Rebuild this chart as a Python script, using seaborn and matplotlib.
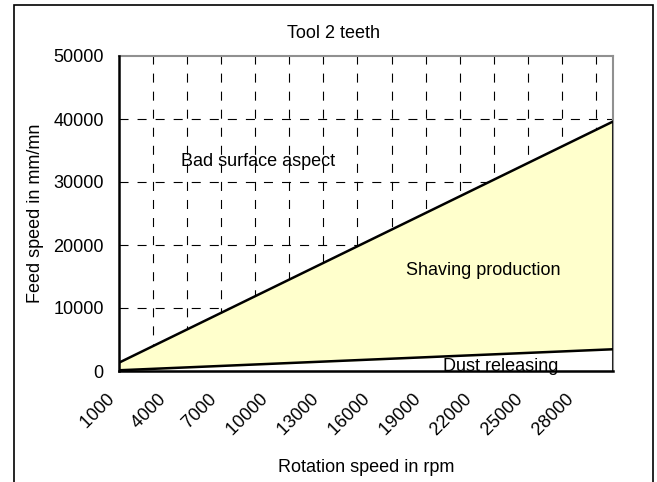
import matplotlib
matplotlib.use("Agg")
import matplotlib.pyplot as plt
import seaborn as sns
import pandas as pd
from matplotlib.patches import Rectangle

# rotation speed categories (rpm)
rpm = [1000, 2000, 3000, 4000, 5000, 6000, 7000, 8000, 9000, 10000,
       11000, 12000, 13000, 14000, 15000, 16000, 17000, 18000, 19000, 20000,
       21000, 22000, 23000, 24000, 25000, 26000, 27000, 28000, 29000, 30000]
# lower limit: dust releasing below this feed
feed_min = [115, 230, 345, 460, 575, 690, 805, 920, 1035, 1150,
            1265, 1380, 1495, 1610, 1725, 1840, 1955, 2070, 2185, 2300,
            2415, 2530, 2645, 2760, 2875, 2990, 3105, 3220, 3335, 3450]
# upper limit: bad surface aspect above this feed
feed_max = [1320, 2640, 3960, 5280, 6600, 7920, 9240, 10560, 11880, 13200,
            14520, 15840, 17160, 18480, 19800, 21120, 22440, 23760, 25080, 26400,
            27720, 29040, 30360, 31680, 33000, 34320, 35640, 36960, 38280, 39600]
grid_vals = [1000, 3000, 5000, 7000, 9000, 11000, 13000, 15000,
             17000, 19000, 21000, 23000, 25000, 27000, 29000]
xlabel_vals = [1000, 4000, 7000, 10000, 13000, 16000, 19000, 22000, 25000, 28000]
ytick_vals = [0, 10000, 20000, 30000, 40000, 50000]

df = pd.DataFrame({"rpm": rpm, "low": feed_min, "high": feed_max})

sns.set_style("white")
plt.rcParams["font.family"] = ["Liberation Sans", "DejaVu Sans"]
plt.rcParams["lines.scale_dashes"] = False
plt.rcParams["text.color"] = "black"
plt.rcParams["axes.labelcolor"] = "black"
plt.rcParams["xtick.color"] = "black"
plt.rcParams["ytick.color"] = "black"

fig = plt.figure(figsize=(6.57, 4.82), dpi=100)
ax = fig.add_axes([119 / 657, 1 - 371 / 482, (613 - 119) / 657, (371 - 56) / 482])

# grid
for xv in grid_vals[1:]:
    ax.axvline(xv, color="black", lw=0.8, dashes=(6.5, 6.5), zorder=1)
for yv in ytick_vals[1:-1]:
    ax.axhline(yv, color="black", lw=0.8, dashes=(6.5, 6.5), zorder=1)

# stacked areas
ax.fill_between(df["rpm"], 0, df["low"], color="white", zorder=2)
ax.fill_between(df["rpm"], df["low"], df["high"], color="#FFFFCC", zorder=2)
sns.lineplot(data=df, x="rpm", y="low", color="black", lw=1.8, ax=ax, zorder=3)
sns.lineplot(data=df, x="rpm", y="high", color="black", lw=1.8, ax=ax, zorder=3)
ax.vlines(rpm[-1], 0, feed_max[-1], color="black", lw=1.8, zorder=3)

ax.set_xlim(rpm[0], rpm[-1])
ax.set_ylim(0, 50000)
# tick marks on every gridline position, labels every third category
ax.set_xticks(grid_vals, minor=True)
ax.set_xticks(xlabel_vals)
# trailing spaces pull the rotated label end a little left of the category
ax.set_xticklabels([f"{v}  " for v in xlabel_vals], rotation=45, ha="right",
                   va="center", rotation_mode="anchor", fontsize=13)
ax.set_yticks(ytick_vals)
ax.set_yticklabels([str(v) for v in ytick_vals], fontsize=13)
ax.tick_params(axis="x", which="major", length=0, pad=14)
ax.tick_params(axis="x", which="minor", direction="inout", length=10, width=1, color="black")
ax.tick_params(axis="y", direction="inout", length=10, width=1, color="black", pad=6)

for s in ["top", "right"]:
    ax.spines[s].set_color("#909090")
    ax.spines[s].set_linewidth(1.5)
for s in ["left", "bottom"]:
    ax.spines[s].set_color("black")
    ax.spines[s].set_linewidth(1.8)
    ax.spines[s].set_zorder(4)

ax.set_xlabel("Rotation speed in rpm", fontsize=13, labelpad=14)
ax.set_ylabel("Feed speed in mm/mn", fontsize=13, labelpad=7)
fig.text(333.5 / 657, 1 - 33 / 482, "Tool 2 teeth", fontsize=13, ha="center", va="center")

ax.text(9160, 33200, "Bad surface aspect", fontsize=13, ha="center", va="center", zorder=0.5)
ax.text(22400, 16000, "Shaving production", fontsize=13, ha="center", va="center", zorder=2.5)
ax.text(23400, 700, "Dust releasing", fontsize=13, ha="center", va="center", zorder=2.5)

# outer chart frame
fig.patches.append(Rectangle((14 / 657, -0.05), (653 - 14) / 657, 1.05 - 5 / 482,
                             transform=fig.transFigure, fill=False,
                             edgecolor="black", lw=1.2))

fig.savefig("out.png", dpi=100)
